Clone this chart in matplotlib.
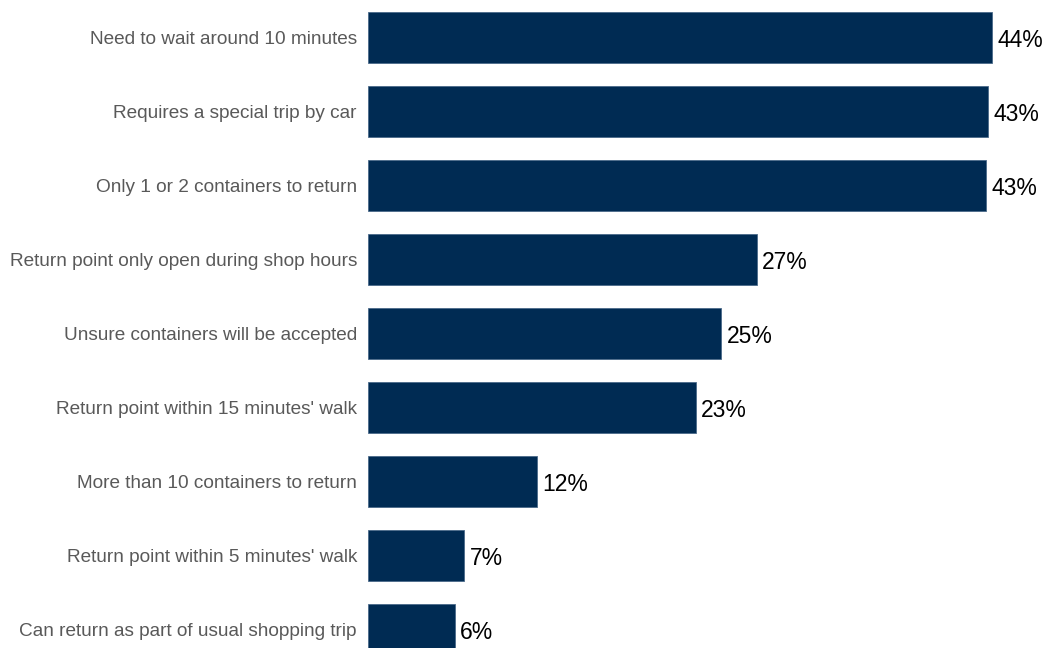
import matplotlib
matplotlib.use("Agg")
import matplotlib.pyplot as plt

categories = [
    "Need to wait around 10 minutes",
    "Requires a special trip by car",
    "Only 1 or 2 containers to return",
    "Return point only open during shop hours",
    "Unsure containers will be accepted",
    "Return point within 15 minutes' walk",
    "More than 10 containers to return",
    "Return point within 5 minutes' walk",
    "Can return as part of usual shopping trip",
]
values = [44.0, 43.7, 43.6, 27.4, 24.9, 23.1, 11.9, 6.8, 6.1]
labels = ["44%", "43%", "43%", "27%", "25%", "23%", "12%", "7%", "6%"]

plt.rcParams['font.family'] = ['Liberation Sans', 'DejaVu Sans']

W, H = 1046, 648
fig = plt.figure(figsize=(W / 100, H / 100), dpi=100)
left = 368 / W
right_px = 1040
ax = fig.add_axes([left, 0, (right_px - 368) / W, 1])

ypos = list(range(len(categories)))
ax.barh(ypos, values, height=0.69, color="#002B53", edgecolor="#4a6a8a", linewidth=0.6)
px_per_unit = 624 / 44.0
ax.set_xlim(0, (right_px - 368) / px_per_unit)
ax.set_ylim(8.25, -0.507)

ax.set_yticks(ypos)
ax.set_yticklabels(categories, fontsize=13.65, color="#595959", va='center_baseline')
ax.tick_params(axis='y', length=0, pad=8)
ax.set_xticks([])
for s in ax.spines.values():
    s.set_visible(False)

for y, v, lab in zip(ypos, values, labels):
    ax.text(v + 0.4, y, lab, va='center_baseline', ha='left', fontsize=16.5, color="#000000")

fig.savefig("out.png", dpi=100)
